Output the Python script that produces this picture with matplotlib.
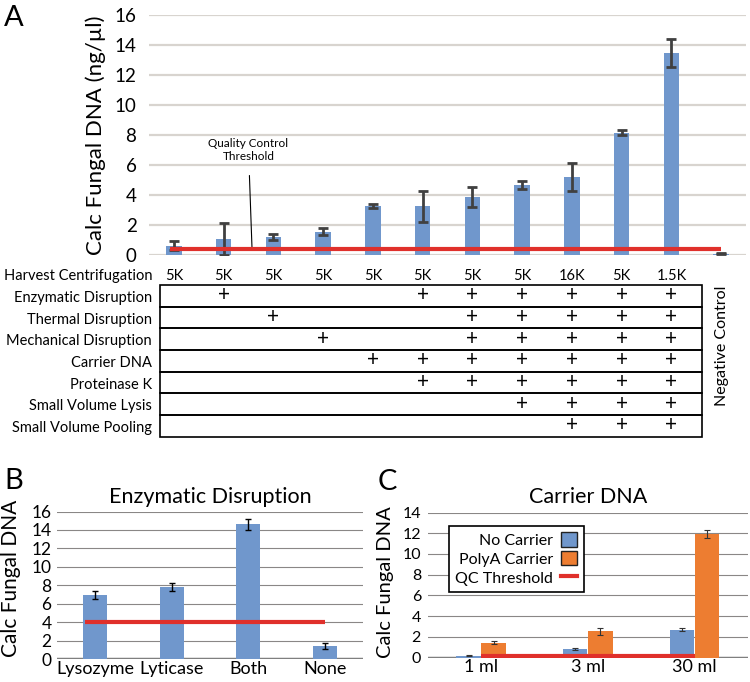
import matplotlib.pyplot as plt
from matplotlib.patches import Rectangle, Patch
from matplotlib.lines import Line2D

plt.rcParams['font.family'] = ['Lato', 'DejaVu Sans']

# ---- panel A data ----
a_values = [0.6, 1.05, 1.2, 1.52, 3.23, 3.23, 3.85, 4.63, 5.2, 8.12, 13.48, 0.05]
a_errors = [0.3, 1.07, 0.2, 0.23, 0.13, 1.03, 0.69, 0.28, 0.93, 0.17, 0.93, 0.02]
a_threshold = 0.37
harvest = ['5K', '5K', '5K', '5K', '5K', '5K', '5K', '5K', '16K', '5K', '1.5K', '']
steps = ['Enzymatic Disruption', 'Thermal Disruption', 'Mechanical Disruption',
         'Carrier DNA', 'Proteinase K', 'Small Volume Lysis', 'Small Volume Pooling']
step_columns = [
    [1, 5, 6, 7, 8, 9, 10],
    [2, 6, 7, 8, 9, 10],
    [3, 6, 7, 8, 9, 10],
    [4, 5, 6, 7, 8, 9, 10],
    [5, 6, 7, 8, 9, 10],
    [7, 8, 9, 10],
    [8, 9, 10],
]

# ---- panel B data ----
b_labels = ['Lysozyme', 'Lyticase', 'Both', 'None']
b_values = [6.95, 7.85, 14.6, 1.45]
b_errors = [0.42, 0.45, 0.62, 0.35]
b_threshold = 4.0

# ---- panel C data ----
c_labels = ['1 ml', '3 ml', '30 ml']
no_carrier = [0.2, 0.85, 2.7]
no_carrier_err = [0.06, 0.07, 0.12]
polya = [1.45, 2.55, 11.9]
polya_err = [0.15, 0.36, 0.38]
c_threshold = 0.2

BLUE = '#7097cc'
ORANGE = '#ed7d31'
RED = '#e0302b'

W, H = 750, 682


def box(l, t, r, b):
    return [l / W, 1 - b / H, (r - l) / W, (b - t) / H]


fig = plt.figure(figsize=(7.5, 6.82), dpi=100)

# ================= Panel A =================
ax = fig.add_axes(box(149, 15, 746, 254.5))
xa = list(range(len(a_values)))
ax.bar(xa, a_values, width=0.31, color=BLUE, zorder=2)
ax.errorbar(xa, a_values, yerr=a_errors, fmt='none', ecolor='#404040',
            elinewidth=2, capsize=3.5, capthick=2, zorder=3)
ax.hlines(a_threshold, -0.08, 11, color=RED, lw=3, zorder=4)
ax.set_xlim(-0.5, 11.5)
ax.set_ylim(0, 16)
ax.set_yticks(range(0, 17, 2))
for y in range(0, 17, 2):
    ax.axhline(y, color='#d8d4cf', lw=1.6, zorder=1)
ax.set_xticks([])
for s in ax.spines.values():
    s.set_visible(False)
ax.tick_params(axis='y', length=0, labelsize=13.5, pad=9)
fig.text(96 / W, 1 - 135 / H, 'Calc Fungal DNA (ng/µl)', rotation=90,
         ha='center', va='center', fontsize=16)
fig.text(4 / W, 1 - 18 / H, 'A', fontsize=21, va='center', ha='left')
ax.annotate('Quality Control\nThreshold', xy=(1.57, a_threshold + 0.1),
            xytext=(1.5, 7.0), ha='center', va='center', fontsize=8.5,
            arrowprops=dict(arrowstyle='-', color='black', lw=0.8,
                            shrinkA=8, shrinkB=0))

# table below panel A
at = fig.add_axes(box(149, 262, 746, 442))
at.set_xlim(-0.5, 11.5)
at.set_ylim(442, 262)
at.axis('off')
lab_x = -0.5 + (152 - 149) / 49.75
box_l = -0.5 + (160 - 149) / 49.75
box_r = -0.5 + (702 - 149) / 49.75
row_h = 21.67
at.text(lab_x, 276, 'Harvest Centrifugation', ha='right', va='center', fontsize=10.5)
for i, h in enumerate(harvest):
    at.text(i, 276, h, ha='center', va='center', fontsize=10.5)
for r, (name, cols) in enumerate(zip(steps, step_columns)):
    top = 285 + r * row_h
    at.add_patch(Rectangle((box_l, top), box_r - box_l, row_h, fill=False,
                           lw=1.2, edgecolor='black', clip_on=False))
    at.text(lab_x, top + row_h / 2 + 2, name, ha='right', va='center', fontsize=10.5)
    for c in cols:
        at.text(c, top + row_h / 2 - 0.5, '+', ha='center', va='center', fontsize=15)
at.text(11.02, 346, 'Negative Control', rotation=90, ha='center', va='center',
        fontsize=11.5)

# ================= Panel B =================
axb = fig.add_axes(box(57, 511.5, 363, 659.3))
xb = list(range(len(b_values)))
axb.bar(xb, b_values, width=0.31, color=BLUE, zorder=2)
axb.errorbar(xb, b_values, yerr=b_errors, fmt='none', ecolor='black',
             elinewidth=1, capsize=2.5, capthick=1, zorder=3)
axb.hlines(b_threshold, -0.13, 3, color=RED, lw=3, zorder=4)
axb.set_xlim(-0.5, 3.5)
axb.set_ylim(0, 16)
axb.set_yticks(range(0, 17, 2))
for y in range(2, 17, 2):
    axb.axhline(y, color='#8a8786', lw=0.8, zorder=1)
axb.axhline(0, color='#7f7f7f', lw=2.5, zorder=1)
for s in axb.spines.values():
    s.set_visible(False)
axb.set_xticks(xb)
axb.set_xticklabels(b_labels, fontsize=13)
axb.tick_params(axis='x', length=0, pad=1.5)
axb.tick_params(axis='y', length=0, labelsize=12.5, pad=4)
axb.set_title('Enzymatic Disruption', fontsize=15.5, pad=6)
fig.text(11 / W, 1 - 578 / H, 'Calc Fungal DNA', rotation=90, ha='center',
         va='center', fontsize=15)
fig.text(4 / W, 1 - 481 / H, 'B', fontsize=21, va='center', ha='left')

# ================= Panel C =================
axc = fig.add_axes(box(428, 512.5, 748, 657.7))
xc = list(range(len(c_labels)))
xl = [x - 0.12 for x in xc]
xr = [x + 0.115 for x in xc]
axc.bar(xl, no_carrier, width=0.23, color=BLUE, zorder=2)
axc.bar(xr, polya, width=0.23, color=ORANGE, zorder=2)
axc.errorbar(xl, no_carrier, yerr=no_carrier_err, fmt='none', ecolor='#333333',
             elinewidth=0.8, capsize=2, capthick=0.8, zorder=3)
axc.errorbar(xr, polya, yerr=polya_err, fmt='none', ecolor='#333333',
             elinewidth=0.8, capsize=2, capthick=0.8, zorder=3)
axc.hlines(c_threshold, 0, 2, color=RED, lw=3, zorder=4)
axc.set_xlim(-0.5, 2.5)
axc.set_ylim(0, 14)
axc.set_yticks(range(0, 15, 2))
for y in range(2, 15, 2):
    axc.axhline(y, color='#8a8786', lw=0.8, zorder=1)
axc.axhline(0, color='#7f7f7f', lw=2.5, zorder=1)
for s in axc.spines.values():
    s.set_visible(False)
axc.set_xticks(xc)
axc.set_xticklabels(c_labels, fontsize=13)
axc.tick_params(axis='x', length=0, pad=1)
axc.tick_params(axis='y', length=0, labelsize=11.5, pad=5)
axc.set_title('Carrier DNA', fontsize=15.5, pad=7)
fig.text(385 / W, 1 - 582 / H, 'Calc Fungal DNA', rotation=90, ha='center',
         va='center', fontsize=14.5)
fig.text(378 / W, 1 - 482 / H, 'C', fontsize=21, va='center', ha='left')

handles = [Patch(facecolor=BLUE, edgecolor='#222222', lw=1),
           Patch(facecolor=ORANGE, edgecolor='#222222', lw=1),
           Line2D([0], [0], color=RED, lw=3)]
leg = axc.legend(handles, ['No Carrier', 'PolyA Carrier', 'QC Threshold'],
                 markerfirst=False, loc='upper left',
                 bbox_to_anchor=(449 / W, 1 - 526 / H), bbox_transform=fig.transFigure,
                 fancybox=False, framealpha=1, edgecolor='black', fontsize=11.5,
                 handlelength=1.0, handleheight=1.0, handletextpad=0.5,
                 borderpad=0.4, labelspacing=0.2, borderaxespad=0)
leg.get_frame().set_linewidth(1.2)
for t in leg.get_texts():
    t.set_ha('right')

fig.savefig('out.png', dpi=100)
